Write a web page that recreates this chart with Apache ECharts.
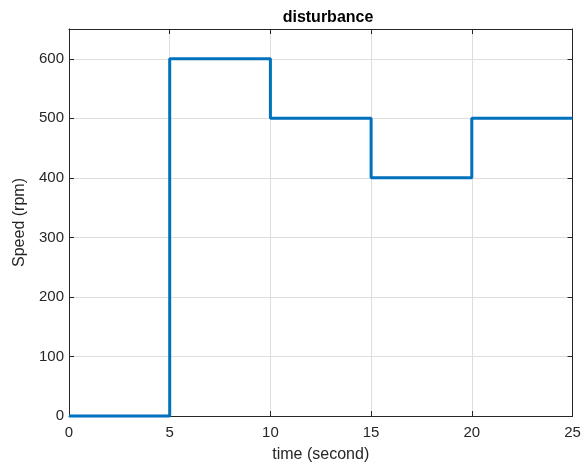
<!DOCTYPE html>
<html><head><meta charset="utf-8">
<script src="https://cdn.jsdelivr.net/npm/echarts@6/dist/echarts.min.js"></script>
<style>html,body{margin:0;padding:0;background:#fff;overflow:hidden}#c{width:586px;height:468px}</style>
</head><body><div id="c"></div>
<script>
const timeValues = [0, 5, 10, 15, 20, 25];
const speedValues = [0, 600, 500, 400, 500, 500];
const titleText = 'disturbance';
const xLabel = 'time (second)';
const yLabel = 'Speed (rpm)';

const chart = echarts.init(document.getElementById('c'), null, {renderer: 'canvas'});
const font = 'Liberation Sans, Arial, Helvetica, sans-serif';
const axisCommon = {
  axisLine: {show: true, onZero: false, lineStyle: {color: '#262626', width: 1}},
  axisTick: {show: true, inside: true, length: 5, lineStyle: {color: '#262626'}},
};
chart.setOption({
  animation: false,
  backgroundColor: '#fff',
  title: {text: titleText, left: 323, top: 5, textAlign: 'center',
    textStyle: {fontFamily: font, fontSize: 16, fontWeight: 'bold', color: '#000'}},
  grid: {left: 69, top: 29, width: 503.5, height: 390.5, containLabel: false},
  xAxis: [
    Object.assign({type: 'value', min: 0, max: 25, interval: 5, position: 'bottom',
      name: xLabel, nameLocation: 'middle', nameGap: 31,
      nameTextStyle: {fontFamily: font, fontSize: 16, color: '#262626'},
      axisLabel: {fontFamily: font, fontSize: 15, color: '#262626', margin: 9},
      splitLine: {show: true, lineStyle: {color: '#dedede', width: 1}}}, axisCommon),
    Object.assign({type: 'value', min: 0, max: 25, interval: 5, position: 'top',
      axisLabel: {show: false}, splitLine: {show: false}}, axisCommon)
  ],
  yAxis: [
    Object.assign({type: 'value', min: 0, max: 650, interval: 100, position: 'left',
      name: yLabel, nameLocation: 'middle', nameGap: 39, nameRotate: 90,
      nameTextStyle: {fontFamily: font, fontSize: 16, color: '#262626'},
      axisLabel: {fontFamily: font, fontSize: 15, color: '#262626', margin: 5,
        formatter: v => (v % 100 === 0 ? String(v) : '')},
      splitLine: {show: true, lineStyle: {color: '#dedede', width: 1}}}, axisCommon),
    Object.assign({type: 'value', min: 0, max: 650, interval: 100, position: 'right',
      axisLabel: {show: false}, splitLine: {show: false}}, axisCommon)
  ],
  series: [{
    type: 'line', step: 'end', symbol: 'none',
    data: timeValues.map((t, i) => [t, speedValues[i]]),
    lineStyle: {color: '#0072BD', width: 3},
    clip: false
  }]
});
</script></body></html>
